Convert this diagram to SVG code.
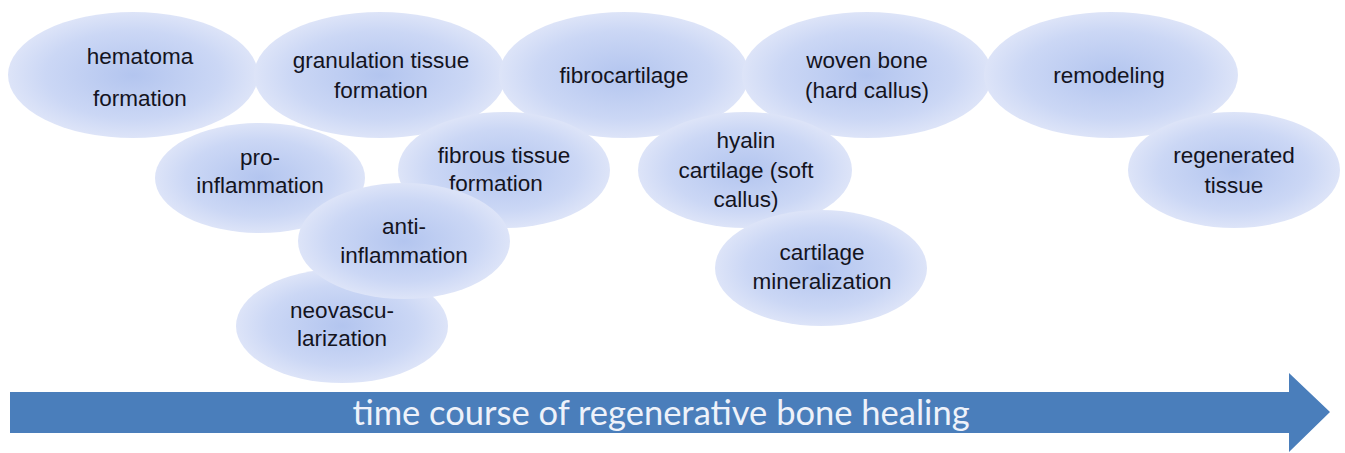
<svg xmlns="http://www.w3.org/2000/svg" width="1345" height="453" viewBox="0 0 1345 453">
<defs>
<radialGradient id="g" cx="0.5" cy="0.5" r="0.5">
<stop offset="0" stop-color="#b3c5ef"/>
<stop offset="0.7" stop-color="#cbd7f5"/>
<stop offset="1" stop-color="#dde4f8"/>
</radialGradient>
<style>
.n{fill:url(#g);stroke:none}
.t{font-family:"Liberation Sans",Arial,sans-serif;font-size:22.5px;fill:#14141e;text-anchor:middle}
.a{fill:#4a7ebb}
.at{font-family:Lato,"Open Sans",sans-serif;font-size:34.5px;fill:#eef2fa;text-anchor:middle}
</style>
</defs>
<rect width="1345" height="453" fill="#fff"/>
<g id="hematoma"><ellipse class="n" cx="133" cy="75" rx="125" ry="63"/><text class="t" x="140" y="64">hematoma</text><text class="t" x="140" y="106">formation</text></g>
<g id="granulation"><ellipse class="n" cx="380" cy="75" rx="126" ry="63"/><text class="t" x="381" y="68">granulation tissue</text><text class="t" x="381" y="98">formation</text></g>
<g id="fibrocartilage"><ellipse class="n" cx="624" cy="75" rx="125" ry="63"/><text class="t" x="624" y="83">fibrocartilage</text></g>
<g id="woven"><ellipse class="n" cx="867" cy="75" rx="125" ry="63"/><text class="t" x="867" y="68">woven bone</text><text class="t" x="867" y="98">(hard callus)</text></g>
<g id="remodeling"><ellipse class="n" cx="1111" cy="75" rx="127" ry="63"/><text class="t" x="1109" y="83">remodeling</text></g>
<g id="pro"><ellipse class="n" cx="260" cy="178" rx="105" ry="55"/><text class="t" x="260" y="165">pro-</text><text class="t" x="260" y="193">inflammation</text></g>
<g id="fibrous"><ellipse class="n" cx="504" cy="170" rx="106" ry="58"/><text class="t" x="504" y="163">fibrous tissue</text><text class="t" x="496" y="191">formation</text></g>
<g id="neovasc"><ellipse class="n" cx="342" cy="326" rx="106" ry="57"/><text class="t" x="342" y="318">neovascu-</text><text class="t" x="342" y="346">larization</text></g>
<g id="anti"><ellipse class="n" cx="404" cy="241" rx="106" ry="58"/><text class="t" x="404" y="234">anti-</text><text class="t" x="404" y="263">inflammation</text></g>
<g id="hyalin"><ellipse class="n" cx="745" cy="170" rx="107" ry="58"/><text class="t" x="746" y="148">hyalin</text><text class="t" x="746" y="178">cartilage (soft</text><text class="t" x="746" y="207">callus)</text></g>
<g id="mineralization"><ellipse class="n" cx="821" cy="268" rx="106" ry="58"/><text class="t" x="822" y="260">cartilage</text><text class="t" x="822" y="289">mineralization</text></g>
<g id="regenerated"><ellipse class="n" cx="1234" cy="170" rx="106" ry="58"/><text class="t" x="1234" y="163">regenerated</text><text class="t" x="1234" y="193">tissue</text></g>
<g id="connectors"><g id="timeArrow"><polygon class="a" points="10,392 1289,392 1289,373 1330,412 1289,452 1289,433 10,433"/><text class="at" x="661" y="425">time course of regenerative bone healing</text></g></g>
</svg>
